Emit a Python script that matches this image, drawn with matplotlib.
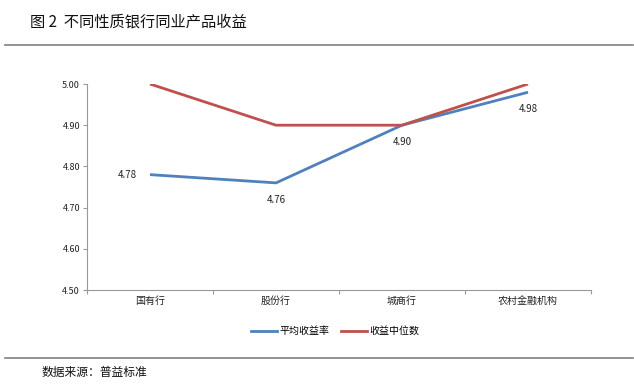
import matplotlib
matplotlib.use("Agg")
import matplotlib.pyplot as plt
from matplotlib.lines import Line2D

plt.rcParams['font.family'] = ['Noto Sans CJK SC', 'DejaVu Sans']

categories = ["国有行", "股份行", "城商行", "农村金融机构"]
avg_yield = [4.78, 4.76, 4.90, 4.98]
median_yield = [5.00, 4.90, 4.90, 5.00]
yticks = [4.50, 4.60, 4.70, 4.80, 4.90, 5.00]
series_names = ["平均收益率", "收益中位数"]

blue = "#4F81BD"
red = "#C0504D"

fig = plt.figure(figsize=(6.34, 3.86), dpi=100)
ax = fig.add_axes([87/634, 1-290/386, (591-87)/634, (290-84)/386])

x = list(range(len(categories)))
ax.plot(x, avg_yield, color=blue, lw=2.0, solid_capstyle='butt')
ax.plot(x, median_yield, color=red, lw=2.0, solid_capstyle='butt')

ax.set_xlim(-0.5, len(categories) - 0.5)
ax.set_ylim(4.5, 5.0)
ax.set_yticks(yticks)
ax.set_yticklabels([f"{v:.2f}" for v in yticks], fontsize=6.5, color="#222222")
ax.set_xticks([i - 0.5 for i in range(len(categories) + 1)], minor=False)
ax.set_xticklabels([])
ax.set_xticks(x, minor=True)
ax.set_xticklabels(categories, minor=True, fontsize=7.2, color="#222222")
ax.tick_params(axis='x', which='minor', length=0, pad=4)
ax.tick_params(axis='x', which='major', length=3, color="#999999", direction='out')
ax.tick_params(axis='y', length=3, color="#999999", pad=2)

for s in ["top", "right"]:
    ax.spines[s].set_visible(False)
for s in ["left", "bottom"]:
    ax.spines[s].set_color("#999999")
    ax.spines[s].set_linewidth(0.8)

# data labels
offsets = [(-16, 0), (0, -12), (0, -12), (0, -12)]
for i, v in enumerate(avg_yield):
    dx, dy = offsets[i]
    ax.annotate(f"{v:.2f}", (i, v), xytext=(dx, dy), textcoords='offset points',
                ha='center', va='center', fontsize=7, color="#222222")

handles = [Line2D([0], [0], color=blue, lw=2.0), Line2D([0], [0], color=red, lw=2.0)]
fig.legend(handles, series_names, loc='center', bbox_to_anchor=(335/634, 1-331/386),
           ncol=2, frameon=False, fontsize=7.2, handlelength=2.6, handletextpad=0.2,
           columnspacing=1.2)

fig.text(30/634, 1-22/386, "图 2  不同性质银行同业产品收益", fontsize=11, va='center', ha='left', color="#111111")
fig.add_artist(Line2D([5/634, 633/634], [1-45/386, 1-45/386], color="#808080", lw=1.2))
fig.add_artist(Line2D([5/634, 633/634], [1-358/386, 1-358/386], color="#808080", lw=1.2))
fig.text(42/634, 1-372/386, "数据来源：普益标准", fontsize=8.5, va='center', ha='left', color="#111111")

fig.savefig("out.png", dpi=100)
